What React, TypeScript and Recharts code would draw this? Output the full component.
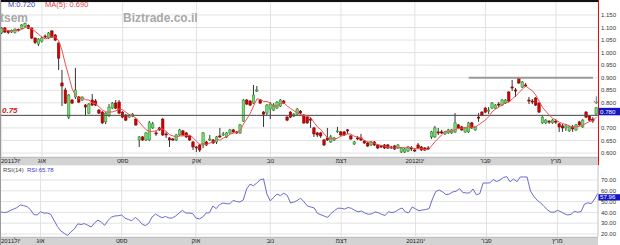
import React from 'react';
import { ComposedChart, Bar, Line, XAxis, YAxis, CartesianGrid, ReferenceLine, ReferenceDot } from 'recharts';

const openPrices = [
  1.078, 1.098, 1.084, 1.082, 1.080, 1.092, 1.096, 1.104, 1.108, 1.098,
  1.058, 1.034, 1.046, 1.066, 1.058, 1.086, 1.070, 1.038, 0.879, 0.851,
  0.743, 0.811, 0.823, 0.823, 0.811, 0.791, 0.759, 0.811, 0.807, 0.771,
  0.763, 0.724, 0.751, 0.779, 0.799, 0.803, 0.763, 0.751, 0.743, 0.747,
  0.735, 0.652, 0.664, 0.652, 0.652, 0.700, 0.680, 0.700, 0.735, 0.676,
  0.660, 0.656, 0.652, 0.672, 0.688, 0.680, 0.668, 0.644, 0.624, 0.632,
  0.632, 0.644, 0.656, 0.652, 0.644, 0.668, 0.676, 0.664, 0.680, 0.692,
  0.684, 0.680, 0.727, 0.811, 0.807, 0.799, 0.851, 0.811, 0.763, 0.759,
  0.775, 0.771, 0.779, 0.787, 0.807, 0.743, 0.763, 0.747, 0.755, 0.767,
  0.751, 0.743, 0.735, 0.700, 0.680, 0.680, 0.652, 0.660, 0.644, 0.652,
  0.684, 0.684, 0.684, 0.692, 0.668, 0.636, 0.660, 0.660, 0.648, 0.640,
  0.632, 0.644, 0.632, 0.628, 0.632, 0.632, 0.624, 0.628, 0.620, 0.604,
  0.604, 0.608, 0.620, 0.612, 0.632, 0.624, 0.620, 0.620, 0.664, 0.664,
  0.684, 0.684, 0.676, 0.680, 0.680, 0.684, 0.712, 0.704, 0.684, 0.684,
  0.720, 0.692, 0.743, 0.763, 0.779, 0.767, 0.779, 0.779, 0.795, 0.791,
  0.799, 0.843, 0.863, 0.851, 0.899, 0.863, 0.871, 0.811, 0.807, 0.819,
  0.799, 0.720, 0.720, 0.727, 0.720, 0.727, 0.716, 0.708, 0.700, 0.688,
  0.704, 0.692, 0.724, 0.704, 0.763, 0.747, 0.735, 0.755,
];

const highPrices = [
  1.102, 1.102, 1.090, 1.092, 1.096, 1.096, 1.114, 1.120, 1.112, 1.100,
  1.060, 1.058, 1.064, 1.072, 1.082, 1.090, 1.074, 1.040, 0.931, 0.860,
  0.835, 0.815, 0.939, 0.827, 0.825, 0.795, 0.799, 0.835, 0.815, 0.775,
  0.767, 0.763, 0.795, 0.803, 0.811, 0.811, 0.767, 0.755, 0.755, 0.759,
  0.739, 0.668, 0.668, 0.684, 0.728, 0.724, 0.688, 0.704, 0.739, 0.684,
  0.664, 0.660, 0.676, 0.696, 0.692, 0.684, 0.672, 0.648, 0.628, 0.636,
  0.684, 0.648, 0.672, 0.656, 0.668, 0.700, 0.684, 0.684, 0.696, 0.696,
  0.688, 0.716, 0.815, 0.815, 0.811, 0.871, 0.867, 0.815, 0.767, 0.795,
  0.803, 0.799, 0.807, 0.815, 0.811, 0.747, 0.767, 0.759, 0.779, 0.771,
  0.755, 0.747, 0.743, 0.704, 0.684, 0.684, 0.656, 0.700, 0.672, 0.664,
  0.704, 0.688, 0.688, 0.696, 0.672, 0.648, 0.668, 0.676, 0.652, 0.644,
  0.648, 0.648, 0.636, 0.632, 0.636, 0.636, 0.628, 0.632, 0.636, 0.624,
  0.620, 0.628, 0.628, 0.620, 0.640, 0.628, 0.624, 0.628, 0.688, 0.708,
  0.700, 0.692, 0.688, 0.696, 0.696, 0.759, 0.716, 0.708, 0.704, 0.724,
  0.724, 0.708, 0.759, 0.767, 0.783, 0.783, 0.803, 0.795, 0.803, 0.815,
  0.815, 0.847, 0.891, 0.859, 0.903, 0.887, 0.879, 0.823, 0.815, 0.823,
  0.803, 0.747, 0.735, 0.731, 0.735, 0.735, 0.720, 0.716, 0.716, 0.708,
  0.712, 0.716, 0.728, 0.735, 0.767, 0.751, 0.743, 0.783,
];

const lowPrices = [
  1.074, 1.078, 1.074, 1.078, 1.076, 1.084, 1.094, 1.100, 1.094, 1.054,
  1.034, 1.026, 1.040, 1.058, 1.054, 1.058, 1.046, 0.931, 0.787, 0.795,
  0.735, 0.795, 0.815, 0.799, 0.807, 0.751, 0.755, 0.787, 0.787, 0.755,
  0.715, 0.715, 0.743, 0.775, 0.775, 0.755, 0.739, 0.727, 0.739, 0.743,
  0.708, 0.624, 0.648, 0.648, 0.648, 0.696, 0.668, 0.688, 0.668, 0.660,
  0.624, 0.648, 0.648, 0.668, 0.668, 0.660, 0.648, 0.612, 0.604, 0.604,
  0.620, 0.628, 0.648, 0.636, 0.636, 0.660, 0.668, 0.660, 0.676, 0.680,
  0.676, 0.676, 0.724, 0.791, 0.787, 0.795, 0.843, 0.795, 0.704, 0.751,
  0.735, 0.767, 0.775, 0.783, 0.795, 0.727, 0.739, 0.743, 0.751, 0.755,
  0.716, 0.716, 0.700, 0.664, 0.664, 0.660, 0.628, 0.648, 0.640, 0.648,
  0.680, 0.668, 0.668, 0.676, 0.652, 0.632, 0.652, 0.648, 0.636, 0.624,
  0.628, 0.628, 0.616, 0.620, 0.616, 0.616, 0.616, 0.612, 0.616, 0.600,
  0.600, 0.604, 0.608, 0.604, 0.616, 0.608, 0.608, 0.612, 0.656, 0.660,
  0.672, 0.676, 0.672, 0.676, 0.676, 0.680, 0.696, 0.688, 0.680, 0.680,
  0.696, 0.688, 0.724, 0.747, 0.759, 0.755, 0.775, 0.775, 0.783, 0.787,
  0.795, 0.803, 0.847, 0.823, 0.875, 0.859, 0.863, 0.795, 0.795, 0.787,
  0.759, 0.716, 0.716, 0.716, 0.716, 0.716, 0.684, 0.684, 0.688, 0.684,
  0.684, 0.688, 0.708, 0.700, 0.739, 0.727, 0.720, 0.751,
];

const closePrices = [
  1.098, 1.082, 1.082, 1.088, 1.094, 1.090, 1.110, 1.116, 1.096, 1.058,
  1.040, 1.054, 1.058, 1.064, 1.078, 1.062, 1.050, 0.978, 0.867, 0.799,
  0.831, 0.799, 0.851, 0.803, 0.823, 0.783, 0.795, 0.791, 0.791, 0.759,
  0.720, 0.759, 0.783, 0.799, 0.779, 0.759, 0.743, 0.731, 0.751, 0.755,
  0.712, 0.664, 0.652, 0.680, 0.720, 0.716, 0.676, 0.692, 0.672, 0.672,
  0.652, 0.652, 0.672, 0.692, 0.672, 0.664, 0.652, 0.624, 0.620, 0.612,
  0.680, 0.632, 0.656, 0.640, 0.664, 0.664, 0.676, 0.680, 0.692, 0.684,
  0.680, 0.712, 0.811, 0.795, 0.791, 0.831, 0.851, 0.799, 0.755, 0.791,
  0.795, 0.791, 0.803, 0.811, 0.799, 0.731, 0.743, 0.755, 0.775, 0.759,
  0.720, 0.720, 0.731, 0.676, 0.672, 0.668, 0.632, 0.652, 0.664, 0.660,
  0.688, 0.672, 0.672, 0.688, 0.656, 0.644, 0.656, 0.652, 0.640, 0.628,
  0.644, 0.632, 0.620, 0.624, 0.620, 0.620, 0.620, 0.616, 0.632, 0.620,
  0.616, 0.624, 0.616, 0.610, 0.620, 0.612, 0.612, 0.618, 0.684, 0.700,
  0.680, 0.680, 0.684, 0.692, 0.692, 0.720, 0.700, 0.692, 0.700, 0.720,
  0.700, 0.704, 0.739, 0.751, 0.763, 0.771, 0.799, 0.791, 0.791, 0.811,
  0.811, 0.807, 0.859, 0.847, 0.879, 0.883, 0.867, 0.807, 0.803, 0.791,
  0.763, 0.743, 0.731, 0.724, 0.731, 0.724, 0.704, 0.700, 0.708, 0.704,
  0.696, 0.712, 0.712, 0.731, 0.743, 0.731, 0.728, 0.780,
];

const rsiValues = [
  40.8, 39.9, 40.1, 41.7, 43.1, 44.4, 46.9, 46.3, 45.4, 42.6,
  38.0, 37.6, 40.6, 39.4, 39.4, 38.2, 32.7, 26.9, 22.8, 20.7,
  18.6, 21.9, 24.6, 29.4, 28.8, 29.6, 28.1, 26.5, 30.4, 32.8,
  30.9, 28.0, 32.7, 35.7, 36.7, 36.9, 37.6, 34.6, 33.5, 32.2,
  35.4, 33.1, 29.3, 27.8, 29.8, 35.7, 38.5, 36.7, 35.0, 36.3,
  34.8, 34.8, 36.7, 39.4, 41.9, 39.4, 39.4, 39.0, 34.8, 33.9,
  35.7, 39.4, 39.7, 45.9, 43.5, 47.2, 48.7, 48.1, 47.9, 51.1,
  50.1, 49.6, 51.5, 61.7, 66.1, 64.7, 67.2, 70.2, 71.1, 57.0,
  50.6, 54.0, 57.0, 55.5, 57.8, 55.8, 48.7, 49.6, 51.1, 53.1,
  49.7, 45.9, 45.0, 44.1, 39.0, 37.8, 36.5, 35.4, 39.0, 41.6,
  43.9, 43.8, 43.1, 44.5, 43.8, 41.9, 40.6, 41.3, 39.4, 38.3,
  38.6, 40.4, 39.7, 38.1, 37.2, 40.6, 39.8, 40.6, 42.7, 44.1,
  40.4, 39.7, 45.0, 43.3, 41.5, 42.2, 42.7, 43.5, 52.4, 59.4,
  60.7, 59.0, 56.5, 57.0, 58.9, 59.6, 62.1, 58.4, 58.0, 58.0,
  61.7, 56.3, 57.3, 67.2, 67.2, 67.3, 70.5, 68.6, 70.1, 72.3,
  73.1, 68.3, 71.1, 68.4, 72.8, 72.8, 72.8, 59.8, 54.9, 51.2,
  48.9, 45.6, 42.5, 40.3, 40.2, 41.9, 40.6, 38.8, 37.6, 38.2,
  41.0, 40.1, 40.9, 47.7, 48.9, 48.1, 52.4, 57.96,
];

const monthTicks = [0, 12, 36, 58, 80, 101, 123, 144, 165];
const monthLabels = ['2011יול', 'אוג', 'ספט', 'אוק', 'נוב', 'דצמ', '2012ינו', 'פבר', 'מרץ'];
const priceTicks = [0.6, 0.65, 0.7, 0.75, 0.8, 0.85, 0.9, 0.95, 1.0, 1.05, 1.1, 1.15];
const hiddenPriceTickLabels = [0.75];
const rsiTicks = [20, 30, 40, 50, 60, 70];
const supportLevel = 0.75;
const resistanceLevel = 0.9;
const resistanceFrom = 139;
const resistanceTo = 176;
const arrowLevel = 0.81;
const maPeriod = 5;

const data = closePrices.map((c, i) => {
  const win = closePrices.slice(Math.max(0, i - maPeriod + 1), i + 1);
  return {
    i,
    open: openPrices[i],
    high: highPrices[i],
    low: lowPrices[i],
    close: c,
    range: [lowPrices[i], highPrices[i]],
    ma: win.reduce((a, b) => a + b, 0) / win.length,
    rsi: rsiValues[i],
  };
});

const lastIdx = data.length - 1;
const lastClose = closePrices[lastIdx];
const lastRsi = rsiValues[lastIdx];

const FONT = 'Liberation Sans, Arial, sans-serif';

const Candle = (props: any) => {
  const { x, y, width, height, payload } = props;
  if (!payload) return null;
  const { open, close, high, low } = payload;
  const up = close >= open;
  const cx = x + width / 2;
  const k = height / (high - low || 1);
  const yO = y + (high - open) * k;
  const yC = y + (high - close) * k;
  const top = Math.min(yO, yC);
  const bh = Math.max(Math.abs(yO - yC), 1);
  const bw = 2.4;
  return (
    <g>
      <line x1={cx} x2={cx} y1={y} y2={y + height} stroke="#333" strokeWidth={1} />
      <rect
        x={cx - bw / 2}
        y={top}
        width={bw}
        height={bh}
        fill={up ? '#7ad87a' : '#d40000'}
        stroke={up ? '#2f8f2f' : '#8a0000'}
        strokeWidth={0.6}
      />
    </g>
  );
};

const MonthTick = (props: any) => {
  const { x, y, payload } = props;
  const idx = monthTicks.indexOf(payload.value);
  const first = idx === 0;
  return (
    <text
      x={first ? 1 : x}
      y={y + 6.3}
      textAnchor={first ? 'start' : 'middle'}
      fontSize={6}
      fill="#222"
      fontFamily={FONT}
    >
      {monthLabels[idx]}
    </text>
  );
};

const makeYTick = (digits: number, hidden: number[]) => (props: any) => {
  const { x, y, payload } = props;
  if (hidden.some((h) => Math.abs(h - payload.value) < 1e-9)) return <g />;
  return (
    <text x={x} y={y} dy={2.2} textAnchor="start" fontSize={6} fill="#333" fontFamily={FONT}>
      {Number(payload.value).toFixed(digits)}
    </text>
  );
};

const valueBox = (text: string, dy: number, h: number) => (props: any) => {
  const vb = props.viewBox || {};
  const bx = vb.x + vb.width;
  const by = vb.y + dy;
  return (
    <g>
      <rect x={bx} y={by} width={22} height={h} fill="#1414c8" />
      <text x={bx + 2} y={by + h - 1.6} fontSize={6.2} fill="#fff" fontFamily={FONT}>
        {text}
      </text>
    </g>
  );
};

const supportLabel = (props: any) => {
  const vb = props.viewBox || {};
  return (
    <text
      x={2}
      y={vb.y - 2}
      fontSize={8}
      fontWeight="bold"
      fontStyle="italic"
      fill="#d42020"
      fontFamily={FONT}
    >
      0.75
    </text>
  );
};

const ArrowShape = (props: any) => {
  const { cx, cy } = props;
  return (
    <g stroke="#777" strokeWidth={1} fill="none">
      <line x1={cx} x2={cx} y1={cy - 4} y2={cy + 3} />
      <polyline points={`${cx - 2.5},${cy + 0.5} ${cx},${cy + 3.5} ${cx + 2.5},${cy + 0.5}`} />
    </g>
  );
};

const abs = (style: React.CSSProperties): React.CSSProperties => ({ position: 'absolute', ...style });

export default function App() {
  return (
    <div style={abs({ left: 0, top: 0, width: 620, height: 245, background: '#fff', overflow: 'hidden', fontFamily: FONT })}>
      {/* date strips */}
      <div style={abs({ left: 0, top: 157, width: 598, height: 8, background: '#d3d3d3', borderTop: '1px solid #9a9a9a', boxSizing: 'border-box' })} />
      <div style={abs({ left: 0, top: 237, width: 598, height: 8, background: '#d3d3d3', borderTop: '1px solid #9a9a9a', boxSizing: 'border-box' })} />

      <div style={abs({ left: 0, top: 0 })}>
        <ComposedChart width={620} height={165} data={data} margin={{ top: 2, right: 0, bottom: 0, left: 0 }} barCategoryGap={0}>
          <CartesianGrid stroke="#e2e2e2" strokeWidth={1} />
          <XAxis
            dataKey="i"
            type="category"
            ticks={monthTicks}
            interval={0}
            height={8}
            tickLine={false}
            axisLine={false}
            tickSize={0}
            tickMargin={0}
            tick={<MonthTick />}
          />
          <YAxis
            orientation="right"
            width={22}
            domain={[0.5841, 1.2016]}
            allowDataOverflow
            ticks={priceTicks}
            interval={0}
            axisLine={false}
            tickLine={false}
            tickSize={0}
            tickMargin={3}
            tick={makeYTick(3, hiddenPriceTickLabels)}
          />
          <ReferenceLine y={supportLevel} stroke="#4a4a4a" strokeWidth={1} label={supportLabel} />
          <ReferenceLine
            segment={[{ x: resistanceFrom, y: resistanceLevel }, { x: resistanceTo, y: resistanceLevel }]}
            stroke="#9a9a9a"
            strokeWidth={2}
          />
          <Bar dataKey="range" shape={<Candle />} isAnimationActive={false} />
          <Line dataKey="ma" stroke="#f05050" strokeWidth={1} dot={false} type="linear" isAnimationActive={false} />
          <ReferenceDot x={lastIdx} y={arrowLevel} shape={<ArrowShape />} />
          <ReferenceLine y={lastClose} stroke="none" label={valueBox(lastClose.toFixed(3), 0, 7.5)} />
        </ComposedChart>
      </div>

      <div style={abs({ left: 0, top: 165 })}>
        <ComposedChart width={620} height={80} data={data} margin={{ top: 0, right: 0, bottom: 0, left: 0 }}>
          <CartesianGrid stroke="#e2e2e2" strokeWidth={1} />
          <XAxis
            dataKey="i"
            type="category"
            ticks={monthTicks}
            interval={0}
            height={8}
            tickLine={false}
            axisLine={false}
            tickSize={0}
            tickMargin={0}
            tick={<MonthTick />}
          />
          <YAxis
            orientation="right"
            width={22}
            domain={[17.22, 83.89]}
            allowDataOverflow
            ticks={rsiTicks}
            interval={0}
            axisLine={{ stroke: '#cfcfcf' }}
            tickLine={false}
            tickSize={0}
            tickMargin={3}
            tick={makeYTick(2, [])}
          />
          <Line dataKey="rsi" stroke="#6a6ad0" strokeWidth={1} dot={false} type="linear" isAnimationActive={false} />
          <ReferenceLine y={lastRsi} stroke="none" label={valueBox(lastRsi.toFixed(2), 1.2, 6.3)} />
        </ComposedChart>
      </div>

      {/* borders */}
      <div style={abs({ left: 0, top: 0, width: 598, height: 2, background: '#111' })} />
      <div style={abs({ left: 598, top: 0, width: 1, height: 165, background: '#e01010' })} />
      <div style={abs({ left: 0, top: 0, width: 1, height: 245, background: '#999' })} />

      {/* texts */}
      <div style={abs({ left: 8, top: 1, fontSize: 7.5, color: '#3a3ad0', lineHeight: '8px', whiteSpace: 'nowrap' })}>M:0.720</div>
      <div style={abs({ left: 45, top: 1, fontSize: 7.5, color: '#e04040', lineHeight: '8px', whiteSpace: 'nowrap' })}>MA(5): 0.690</div>
      <div style={abs({ left: 0, top: 12, fontSize: 12, fontWeight: 'bold', color: '#a8a8a8', lineHeight: '13px' })}>tsem</div>
      <div style={abs({ left: 123, top: 12, fontSize: 12, fontWeight: 'bold', color: '#a8a8a8', lineHeight: '13px', whiteSpace: 'nowrap' })}>Biztrade.co.il</div>
      <div style={abs({ left: 3, top: 166, fontSize: 6, color: '#444', lineHeight: '8px', whiteSpace: 'nowrap' })}>RSI(14)</div>
      <div style={abs({ left: 27, top: 166, fontSize: 6, color: '#3a3ad0', lineHeight: '8px', whiteSpace: 'nowrap' })}>RSI:65.78</div>
    </div>
  );
}
